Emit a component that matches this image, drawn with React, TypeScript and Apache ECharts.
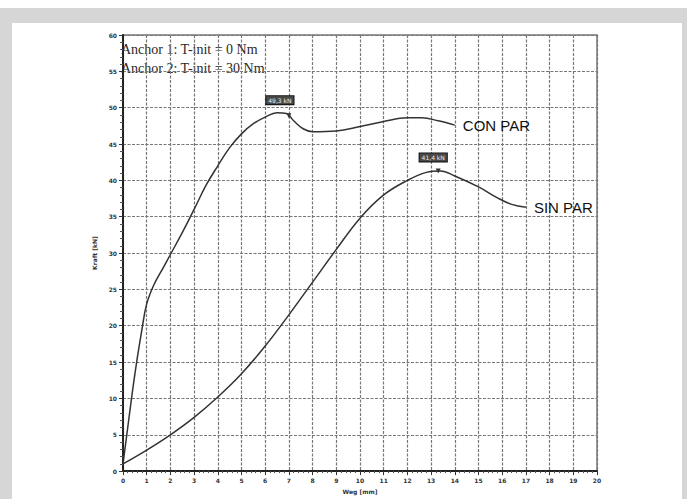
import React, { useEffect, useRef } from "react";
import * as echarts from "echarts";

const conParX = [0, 0.2, 0.4, 0.6, 0.8, 1, 1.3, 1.7, 2, 2.5, 3, 3.5, 4, 4.5, 5, 5.5, 6, 6.5, 6.9, 7.2, 7.6, 8, 9, 10, 11, 12, 12.6, 13.3, 14];
const conParY = [1, 6, 11, 15.5, 19.5, 23, 25.6, 28, 29.8, 32.8, 36, 39.3, 42, 44.5, 46.4, 47.8, 48.7, 49.3, 49.2, 48.2, 47.1, 46.7, 46.8, 47.4, 48.1, 48.6, 48.6, 48.2, 47.6];
const sinParX = [0, 1, 2, 3, 4, 5, 6, 7, 8, 9, 10, 11, 12, 12.8, 13.4, 14, 15, 15.8, 16.4, 17];
const sinParY = [1, 2.9, 5, 7.4, 10.2, 13.4, 17.2, 21.5, 26, 30.5, 34.8, 38, 40, 41.1, 41.3, 40.6, 39.1, 37.6, 36.7, 36.3];
const seriesNames = ["CON PAR", "SIN PAR"];
const peakCon = [7.0, 48.9];
const peakSin = [13.3, 41.3];
const peakLabels = ["49,3 kN", "41,4 kN"];
const notes = ["Anchor 1: T-init = 0 Nm", "Anchor 2: T-init = 30 Nm"];
const xName = "Weg [mm]";
const yName = "Kraft [kN]";

function zip(xs: number[], ys: number[]) {
  return xs.map((x, i) => [x, ys[i]]);
}

export default function App() {
  const ref = useRef<HTMLDivElement>(null);
  useEffect(() => {
    if (!ref.current) return;
    const chart = echarts.init(ref.current, null, { renderer: "svg" });
    const tickFont = { fontFamily: "DejaVu Sans", fontSize: 6, fontWeight: "bold" as const, color: "#333" };
    const mp = (coord: number[], text: string, off: number[]) => ({
      symbol: "triangle",
      symbolSize: 5,
      symbolRotate: 180,
      itemStyle: { color: "#333" },
      data: [
        {
          coord,
          label: {
            show: true,
            formatter: text,
            position: "top",
            offset: off,
            fontSize: 6,
            fontFamily: "DejaVu Sans",
            color: "#eee",
            backgroundColor: "#4a4a4a",
            borderColor: "#111",
            borderWidth: 1,
            padding: [1, 2],
          },
        },
      ],
    });
    const lineSeries = (name: string, data: number[][], peak: number[], text: string, off: number[]) => ({
      type: "line",
      name,
      data,
      smooth: 0.4,
      showSymbol: false,
      lineStyle: { color: "#333", width: 1.5 },
      endLabel: {
        show: true,
        formatter: name,
        distance: 8,
        fontFamily: "Liberation Sans",
        fontSize: 15,
        color: "#111",
      },
      markPoint: mp(peak, text, off),
    });
    chart.setOption({
      animation: false,
      backgroundColor: "transparent",
      graphic: [
        { type: "rect", z: -10, shape: { x: 0, y: 8, width: 687, height: 491 }, style: { fill: "#d6d6d6" } },
        { type: "rect", z: -9, shape: { x: 12, y: 23, width: 670, height: 476 }, style: { fill: "#ffffff" } },
        { type: "text", left: 121, top: 42, style: { text: notes[0], font: "14px 'Liberation Serif'", fill: "#2a2a2a" } },
        { type: "text", left: 121, top: 61, style: { text: notes[1], font: "14px 'Liberation Serif'", fill: "#2a2a2a" } },
      ],
      grid: { left: 123, right: 90, top: 35, bottom: 25, show: true, borderColor: "#999", borderWidth: 2 },
      xAxis: {
        type: "value",
        min: 0,
        max: 20,
        interval: 1,
        name: xName,
        nameLocation: "middle",
        nameGap: 12,
        nameTextStyle: { ...tickFont },
        axisLine: { show: true, onZero: false, lineStyle: { color: "#222", width: 2 } },
        axisTick: { show: true, length: 4, lineStyle: { color: "#333" } },
        minorTick: { show: true, splitNumber: 5, length: 2, lineStyle: { color: "#555" } },
        axisLabel: { ...tickFont, margin: 6 },
        splitLine: { show: true, lineStyle: { color: "#777", width: 1.2, type: [3, 1.5] } },
      },
      yAxis: {
        type: "value",
        min: 0,
        max: 60,
        interval: 5,
        name: yName,
        nameLocation: "middle",
        nameGap: 14,
        nameRotate: 90,
        nameTextStyle: { ...tickFont },
        axisLine: { show: true, onZero: false, lineStyle: { color: "#222", width: 2 } },
        axisTick: { show: true, length: 4, lineStyle: { color: "#333" } },
        minorTick: { show: true, splitNumber: 5, length: 3, lineStyle: { color: "#555" } },
        axisLabel: { ...tickFont, margin: 6 },
        splitLine: { show: true, lineStyle: { color: "#777", width: 1.2, type: [3, 1.5] } },
      },
      series: [
        lineSeries(seriesNames[0], zip(conParX, conParY), peakCon, peakLabels[0], [-9, -4]),
        lineSeries(seriesNames[1], zip(sinParX, sinParY), peakSin, peakLabels[1], [-5, -2]),
      ],
    });
    return () => chart.dispose();
  }, []);
  return (
    <div style={{ position: "fixed", left: 0, top: 0, width: 687, height: 499, background: "#fff" }}>
      <div ref={ref} style={{ width: 687, height: 499 }} />
    </div>
  );
}
